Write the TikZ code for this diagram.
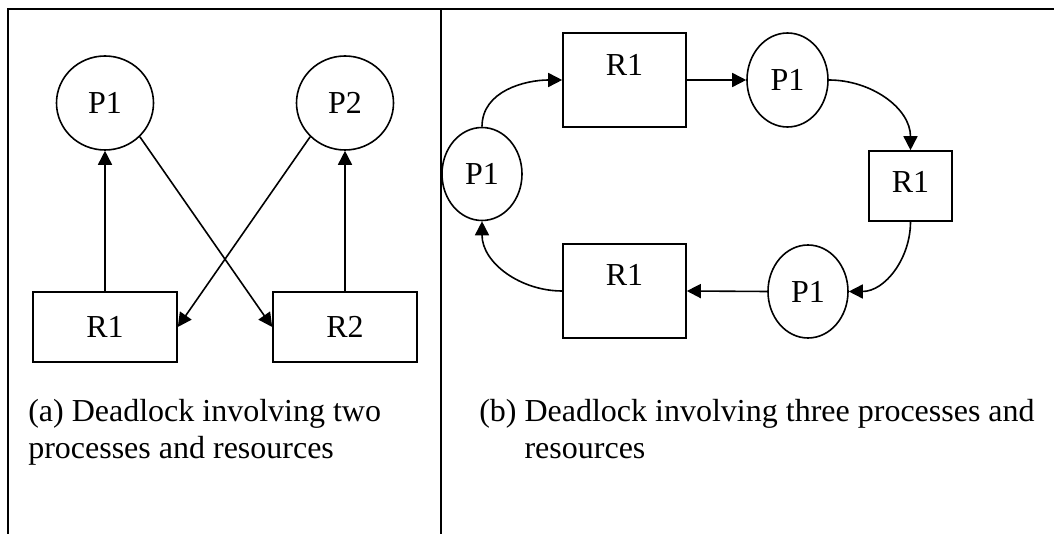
\documentclass[tikz,border=0pt]{standalone}
\usepackage{fontspec}
\setmainfont{Liberation Serif}
\usetikzlibrary{arrows.meta,shapes.geometric}

\tikzset{
	proc/.style={draw, ellipse, line width=1.2pt, inner sep=0pt},
	res/.style={draw, rectangle, line width=1.2pt, inner sep=0pt},
	edge/.style={line width=1.2pt, -{Triangle[length=10.5pt,width=10.5pt]}},
	frame/.style={line width=2pt},
	caption/.style={anchor=base west, align=left, inner sep=0pt}
}

\begin{document}
\begin{tikzpicture}[x=0.75pt, y=-0.75pt, font=\fontsize{24}{27.75}\selectfont]

	\useasboundingbox (0,0) rectangle (1054,534);

	\draw[frame] (8,534) -- (8,9) -- (1054,9);
	\draw[frame] (441,9) -- (441,534);

            % two processes, two resources
            \node[proc, minimum width=97*0.75pt, minimum height=94*0.75pt] (p1) at (105,103) {P1};
            \node[proc, minimum width=97*0.75pt, minimum height=94*0.75pt] (p2) at (345,103) {P2};
            \node[res, minimum width=144*0.75pt, minimum height=70*0.75pt] (r1) at (105,327) {R1};
            \node[res, minimum width=144*0.75pt, minimum height=70*0.75pt] (r2) at (345,327) {R2};

            \draw[edge] (r1.north) -- (p1.south);
            \draw[edge] (r2.north) -- (p2.south);
            \draw[edge] (p1.south east) -- (r2.west);
            \draw[edge] (p2.south west) -- (r1.east);

            \node[caption] (capa) at (28,459) {(a) Deadlock involving two\\processes and resources};

            % three processes, three resources
            \node[proc, minimum width=80*0.75pt, minimum height=93*0.75pt] (pl) at (482,174) {P1};
            \node[proc, minimum width=81*0.75pt, minimum height=94*0.75pt] (pt) at (787.5,80) {P1};
            \node[proc, minimum width=80*0.75pt, minimum height=93*0.75pt] (pb) at (808,291.5) {P1};
            \node[res, minimum width=123*0.75pt, minimum height=94*0.75pt] (ra) at (624.5,80) {};
            \node[res, minimum width=83*0.75pt, minimum height=70*0.75pt] (rb) at (910.5,186) {};
            \node[res, minimum width=123*0.75pt, minimum height=94*0.75pt] (rc) at (624.5,291) {};
            \node (rat) at (624.5,65) {R1};
            \node (rbt) at (910.5,182) {R1};
            \node (rct) at (624.5,275) {R1};

            \draw[edge] (pl.north) to[out=90, in=180] (ra.west);
            \draw[edge] (ra.east) -- (pt.west);
            \draw[edge] (pt.east) to[out=0, in=90] (rb.north);
            \draw[edge] (rb.south) to[out=-90, in=0] (pb.east);
            \draw[edge] (pb.west) -- (rc.east);
            \draw[edge] (rc.west) to[out=180, in=-90] (pl.south);

            \node[caption] (capb) at (479,459) {(b) Deadlock involving three processes and\\\hphantom{(b)}\ resources};

\end{tikzpicture}
\end{document}
